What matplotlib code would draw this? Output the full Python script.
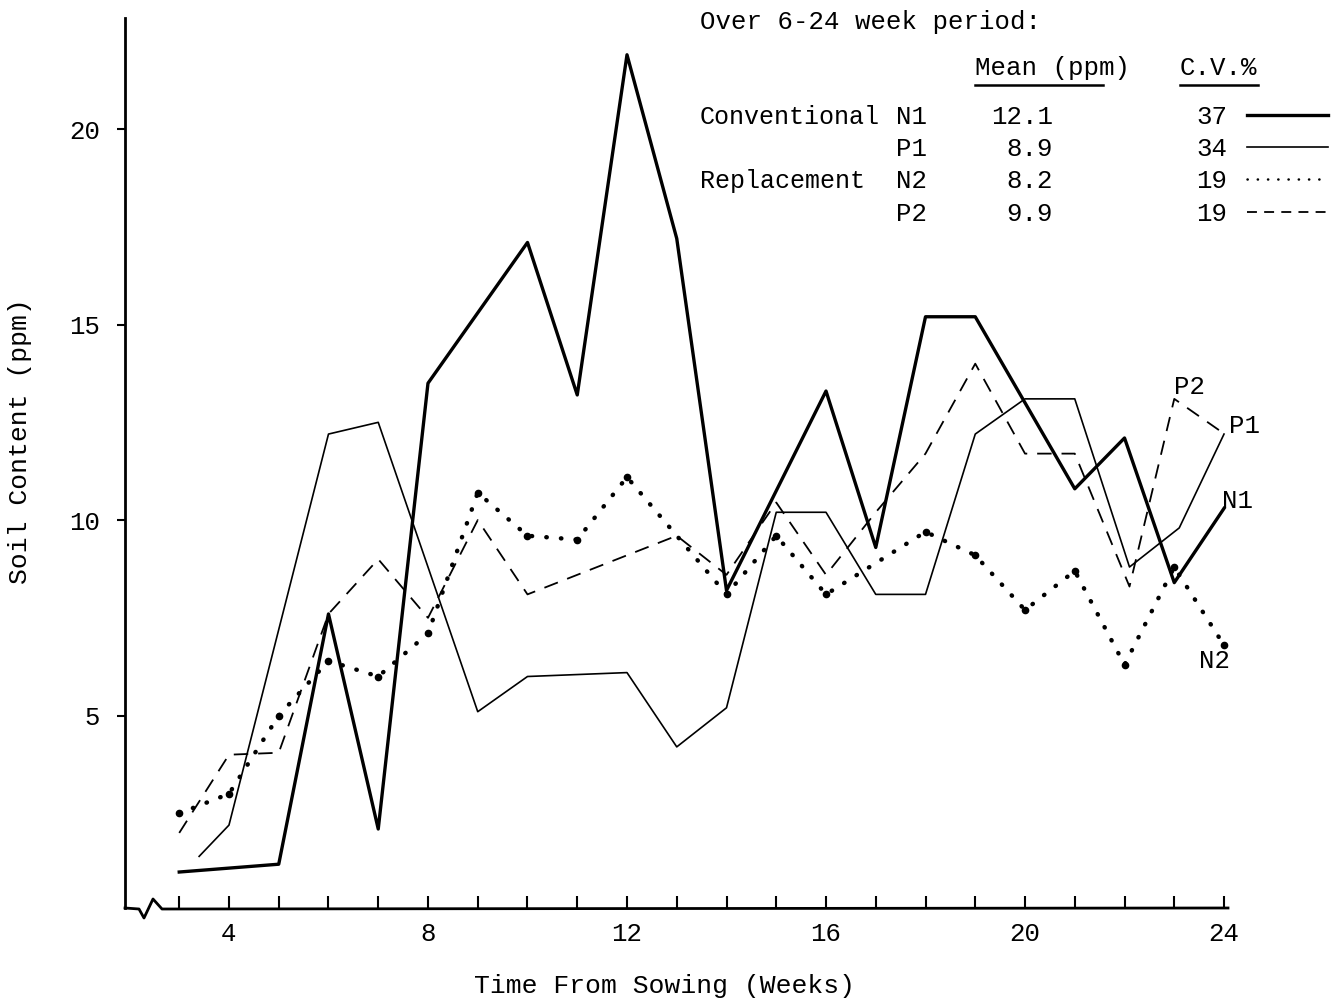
import matplotlib
matplotlib.use("Agg")
import matplotlib.pyplot as plt
from matplotlib.lines import Line2D

# Data (weeks from sowing, soil content in ppm)
weeks_n1 = [3, 5, 6, 7, 8, 9, 10, 11, 12, 13, 14, 16, 17, 18, 19, 21, 22, 23, 24]
n1 = [1.0, 1.2, 7.6, 2.1, 13.5, 15.3, 17.1, 13.2, 21.9, 17.2, 8.2, 13.3, 9.3, 15.2, 15.2, 10.8, 12.1, 8.4, 10.3]

weeks_p1 = [3.4, 4, 6, 7, 9, 10, 12, 13, 14, 15, 16, 17, 18, 19, 20, 21, 22.1, 23.1, 24]
p1 = [1.4, 2.2, 12.2, 12.5, 5.1, 6.0, 6.1, 4.2, 5.2, 10.2, 10.2, 8.1, 8.1, 12.2, 13.1, 13.1, 8.8, 9.8, 12.2]

weeks_n2 = [3, 4, 5, 6, 7, 8, 9, 10, 11, 12, 14, 15, 16, 18, 19, 20, 21, 22, 23, 24]
n2 = [2.5, 3.0, 5.0, 6.4, 6.0, 7.1, 10.7, 9.6, 9.5, 11.1, 8.1, 9.6, 8.1, 9.7, 9.1, 7.7, 8.7, 6.3, 8.8, 6.8]

weeks_p2 = [3, 4, 5, 6, 7, 8, 9, 10, 13, 14, 15, 16, 17, 18, 19, 20, 21, 22.1, 23, 23.9]
p2 = [2.0, 4.0, 4.05, 7.6, 9.0, 7.5, 10.0, 8.1, 9.6, 8.6, 10.45, 8.6, 10.2, 11.7, 14.0, 11.7, 11.7, 8.3, 13.1, 12.3]

# Summary table (6-24 week period)
groups = ["Conventional", "", "Replacement", ""]
codes = ["N1", "P1", "N2", "P2"]
means = ["12.1", "8.9", "8.2", "9.9"]
cvs = ["37", "34", "19", "19"]

plt.rcParams['font.family'] = ['Liberation Mono', 'DejaVu Sans Mono']
FS = 18.5

styles = {
    "N1": dict(color="black", lw=2.4, ls="-"),
    "P1": dict(color="black", lw=1.2, ls="-"),
    "N2": dict(color="black", lw=3.2, ls=(0, (0.1, 3.2)), dash_capstyle="round"),
    "P2": dict(color="black", lw=1.3, ls=(0, (8, 5.5))),
}

fig = plt.figure(figsize=(13.4, 10), dpi=100)
ax = fig.add_axes([125 / 1340, 1 - 908 / 1000, 1103 / 1340, 890 / 1000])

ax.plot(weeks_n1, n1, **styles["N1"])
ax.plot(weeks_p1, p1, **styles["P1"])
ax.plot(weeks_n2, n2, **styles["N2"])
ax.plot(weeks_n2, n2, "o", color="black", ms=4.5)
ax.plot(weeks_p2, p2, **styles["P2"])

ax.set_xlim(1.91, 24.08)
ax.set_ylim(0.08, 22.84)

# x ticks every week, labels every 4 weeks
xt = list(range(3, 25))
ax.set_xticks(xt)
ax.set_xticklabels([str(w) if w % 4 == 0 else "" for w in xt], fontsize=FS)
ax.set_yticks([5, 10, 15, 20])
ax.set_yticklabels(["5", "10", "15", "20"], fontsize=FS)
ax.tick_params(axis="x", direction="in", length=9, width=1.5, pad=10)
ax.tick_params(axis="y", direction="out", length=6, width=1.5, pad=12)

for s in ["top", "right", "bottom"]:
    ax.spines[s].set_visible(False)
ax.spines["left"].set_linewidth(2)

# bottom axis line with a break squiggle near the origin
bx = [125, 139, 144, 153, 162, 1228]
by = [908, 909, 918, 899, 909, 908]
ax.plot([(x - 125) / 1103 for x in bx], [(908 - y) / 890 for y in by],
        transform=ax.transAxes, color="black", lw=2, clip_on=False)

# line end labels
ax.text(23.0, 13.1, "P2", fontsize=FS, ha="left", va="bottom")
ax.text(24.1, 12.4, "P1", fontsize=FS, ha="left", va="center")
ax.text(23.95, 10.5, "N1", fontsize=FS, ha="left", va="center")
ax.text(23.5, 6.4, "N2", fontsize=FS, ha="left", va="center")

# axis titles
fig.text(20 / 1340, 1 - 441 / 1000, "Soil Content (ppm)", rotation=90,
         fontsize=19, ha="center", va="center")
fig.text(665 / 1340, 1 - 986 / 1000, "Time From Sowing (Weeks)",
         fontsize=19, ha="center", va="center")


def fx(px):
    return px / 1340


def fy(py):
    return 1 - py / 1000


# summary table in the top right
fig.text(fx(700), fy(22), "Over 6-24 week period:", fontsize=FS, va="center")
fig.text(fx(975), fy(68), "Mean (ppm)", fontsize=FS, va="center")
fig.text(fx(1180), fy(68), "C.V.%", fontsize=FS, va="center")
fig.add_artist(Line2D([fx(975), fx(1103)], [fy(85), fy(85)], color="black", lw=1.8))
fig.add_artist(Line2D([fx(1180), fx(1258)], [fy(85), fy(85)], color="black", lw=1.8))

row_y = [117, 149, 181, 214]
for g, c, m, cv, y in zip(groups, codes, means, cvs, row_y):
    fig.text(fx(700), fy(y), g, fontsize=18, va="center")
    fig.text(fx(896), fy(y), c, fontsize=FS, va="center")
    fig.text(fx(1053), fy(y), m, fontsize=FS, va="center", ha="right")
    fig.text(fx(1227), fy(y), cv, fontsize=FS, va="center", ha="right")
    st = dict(styles[c])
    if c == "N2":
        st["lw"] = 1.8
        st["ls"] = (0, (0.1, 4.0))
    if c == "P2":
        st["ls"] = (0, (5.5, 4.0))
    fig.add_artist(Line2D([fx(1247), fx(1328)], [fy(y - 2), fy(y - 2)], **st))

fig.savefig("out.png", dpi=100)
